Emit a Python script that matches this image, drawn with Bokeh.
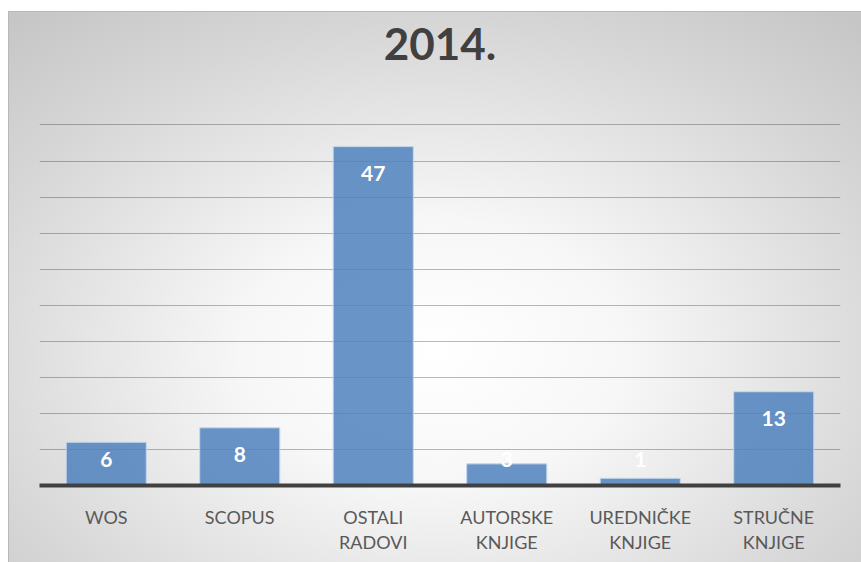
import numpy as np
from bokeh.plotting import figure
from bokeh.models import ColumnDataSource, FixedTicker, Range1d, FactorRange
from bokeh.core.properties import value
from bokeh.embed import file_html
from bokeh.resources import INLINE

# ---- data ----
categories = ["WOS", "SCOPUS", "OSTALI\nRADOVI", "AUTORSKE\nKNJIGE", "UREDNIČKE\nKNJIGE", "STRUČNE\nKNJIGE"]
counts = [6, 8, 47, 3, 1, 13]
grid_ticks = [0, 5, 10, 15, 20, 25, 30, 35, 40, 45, 50]
title_text = "2014."

vals = np.array(counts, dtype=float)
label_y = np.maximum(vals - 3.75, 3.55)

src = ColumnDataSource(dict(
    cat=categories,
    val=counts,
    ly=label_y,
    lbl=[str(v) for v in counts],
))

p = figure(
    x_range=FactorRange(factors=categories, range_padding=0),
    y_range=Range1d(0, 57.0),
    width=853, height=551,
    output_backend="svg", toolbar_location=None,
    min_border_left=31, min_border_right=21, min_border_top=0, min_border_bottom=77,
    styles={
        "position": "relative",
        "top": "11px",
        "left": "8px",
        "background": "radial-gradient(ellipse 75% 80% at 50% 62%, #ffffff 0%, #f7f7f7 30%, #d6d6d6 75%, #c6c6c6 100%)",
        "box-shadow": "inset 1px 1px 0 #b8b8b8",
    },
)
p.border_fill_alpha = 0
p.background_fill_alpha = 0
p.outline_line_color = None

# title
p.title.text = title_text
p.title.align = "center"
p.title.text_font = "Lato"
p.title.text_font_size = "44px"
p.title.text_font_style = "bold"
p.title.text_color = "#404040"
p.title.standoff = 29

# grid
p.xgrid.visible = False
p.ygrid.ticker = FixedTicker(ticks=grid_ticks)
p.ygrid.grid_line_color = "#000000"
p.ygrid.grid_line_alpha = 0.27
p.ygrid.grid_line_width = 1

# axes
p.yaxis.visible = False
ax = p.xaxis[0]
ax.axis_line_color = "#404040"
ax.axis_line_width = 4
ax.major_tick_line_color = None
ax.minor_tick_line_color = None
ax.major_label_text_font = "Lato"
ax.major_label_text_font_size = "18px"
ax.major_label_text_color = "#595959"
ax.major_label_text_line_height = 1.15
ax.major_label_standoff = 14
ax.major_label_orientation = "horizontal"

# bars
p.vbar(x="cat", top="val", width=0.6, source=src,
       fill_color="#4F81BD", fill_alpha=0.85,
       line_color="#c6d7ec", line_width=1)

# data labels
p.text(x="cat", y="ly", text="lbl", source=src,
       text_color="white", text_font=value("Lato"), text_font_style="bold",
       text_font_size="21px", text_align="center", text_baseline="middle")

open("out.html", "w").write(file_html(p, INLINE))
